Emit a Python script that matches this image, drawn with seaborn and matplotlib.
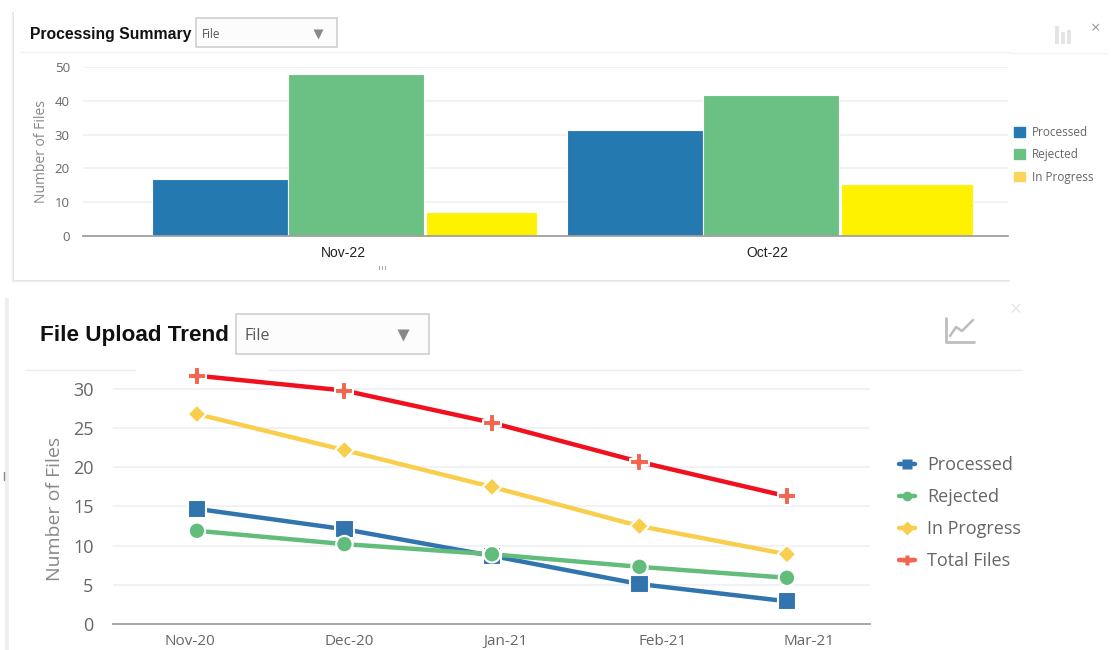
import matplotlib

matplotlib.use("Agg")
import matplotlib.pyplot as plt
import pandas as pd
import seaborn as sns
from matplotlib.lines import Line2D
from matplotlib.patches import Patch, Rectangle

W, H = 1111, 650

# ---- data ----
bar_months = ["Nov-22", "Oct-22"]
bar_series = ["Processed", "Rejected", "In Progress"]
bar_processed = [17, 31.5]
bar_rejected = [48, 41.7]
bar_in_progress = [7, 15.5]

trend_months = ["Nov-20", "Dec-20", "Jan-21", "Feb-21", "Mar-21"]
trend_series = ["Processed", "Rejected", "In Progress", "Total Files"]
trend_processed = [14.7, 12.1, 8.7, 5.1, 2.9]
trend_rejected = [11.9, 10.2, 8.9, 7.3, 5.9]
trend_in_progress = [26.8, 22.2, 17.5, 12.5, 8.9]
trend_total = [31.7, 29.8, 25.7, 20.7, 16.3]

# ---- colours ----
blue = "#2479B0"
green = "#6BC084"
bar_colors = dict(zip(bar_series, [blue, green, "#FFF200"]))
line_colors = dict(zip(trend_series, ["#3274AE", "#62BC7C", "#F8CE4C", "#F0101E"]))
marker_colors = dict(zip(trend_series, ["#3274AE", "#62BC7C", "#F8CE4C", "#F2664F"]))
markers = dict(zip(trend_series, ["s", "o", "D", "P"]))
marker_sizes = dict(zip(trend_series, [175, 140, 90, 170]))
grid_color = "#EEF0F5"
text_grey = "#666666"
title_font = "Liberation Sans"

sns.set_theme(style="white")
plt.rcParams["font.family"] = ["Open Sans", "DejaVu Sans"]

fig = plt.figure(figsize=(W / 100, H / 100), dpi=100, facecolor="white")


def px_axes(left, top, right, bottom, **kw):
    return fig.add_axes(
        [left / W, 1 - bottom / H, (right - left) / W, (bottom - top) / H], **kw
    )


# ---- page furniture, drawn in pixel coordinates under the charts ----
bg = px_axes(0, 0, W, H, zorder=-1)
bg.set_xlim(0, W)
bg.set_ylim(H, 0)
bg.axis("off")

# shadow of the top panel
for i, alpha in enumerate([0.04, 0.07, 0.12]):
    d = 3 - i
    bg.add_patch(
        Rectangle((14 - d, 12), 1000 + d, 268 + d, color="#808080", alpha=alpha, lw=0)
    )
bg.add_patch(Rectangle((14, 12), 1097, 268, color="white", lw=0))
bg.add_patch(Rectangle((1010, 0), 101, 296, color="white", lw=0))
bg.plot([20, 1010], [52, 52], color="#F3F3F3", lw=1)
bg.plot([1010, 1108], [53, 53], color="#F3F3F3", lw=1)
for x in [379, 382, 385]:
    bg.plot([x, x], [266, 269], color="#AAAAAA", lw=0.8)

# left edge of the bottom panel
bg.add_patch(Rectangle((5, 298), 4, 352, color="#EFEFEF", lw=0))
bg.plot([4, 4], [472, 480], color="#888888", lw=1)
bg.plot([25, 135], [370, 370], color="#EDEDED", lw=1)
bg.plot([268, 1022], [370, 370], color="#EDEDED", lw=1)


def dropdown(x0, y0, w, h, fs, text_dx, arrow_x, size):
    bg.add_patch(
        Rectangle((x0, y0), w, h, fc="#FCFCFC", ec="#CFCFCF", lw=1.2)
    )
    bg.text(x0 + text_dx, y0 + h / 2 + 2, "File", fontsize=fs, color="#555555", va="center")
    bg.plot(arrow_x, y0 + h / 2 + 1, marker="v", ms=size, color="#888888", mec="none")


bg.text(30, 35, "Processing Summary", fontsize=11.3, fontweight="bold",
        family=title_font, color="#111111", va="center")
dropdown(196, 18, 141, 29, 8.5, 6, 318, 6.5)
bg.text(40, 336, "File Upload Trend", fontsize=16.2, fontweight="bold",
        family=title_font, color="#111111", va="center")
dropdown(236, 314, 193, 40, 11.5, 9, 403, 9)

# chart icons and close buttons
for x, top_y in [(1055, 26), (1061, 32), (1067, 30)]:
    bg.add_patch(Rectangle((x, top_y), 4, 44 - top_y, color="#E4E4E4", lw=0))
bg.text(1096, 29, "×", fontsize=12, color="#999999", ha="center", va="center")
bg.plot([946, 946, 974], [318, 342, 342], color="#BDBDBD", lw=2)
bg.plot([950, 956, 962, 973], [336, 327, 331, 320], color="#BDBDBD", lw=1.8)
bg.text(1016, 310, "×", fontsize=15, color="#E6E6E6", ha="center", va="center")

# ---- Processing Summary ----
bar_df = pd.DataFrame(
    {
        "month": bar_months * 3,
        "status": [s for s in bar_series for _ in bar_months],
        "files": bar_processed + bar_rejected + bar_in_progress,
    }
)

ax1 = px_axes(83, 67, 1008, 236, facecolor="none")
sns.barplot(
    data=bar_df, x="month", y="files", hue="status", hue_order=bar_series,
    palette=bar_colors, saturation=1, width=0.985, gap=0,
    edgecolor="white", linewidth=0.8, legend=False, ax=ax1,
)
# the yellow bars are narrower than the other two in the reference
for bar, ratio in zip(ax1.containers[2], [0.81, 0.965]):
    bar.set_x(bar.get_x() + 0.005)
    bar.set_width(bar.get_width() * ratio)

ax1.set_xlim(-0.658, 1.571)
ax1.set_ylim(0, 50)
ax1.set_yticks(range(0, 51, 10))
ax1.set_xticks([-0.03, 0.99], bar_months)
ax1.grid(axis="y", color=grid_color, lw=1.2)
ax1.set_axisbelow(True)
ax1.tick_params(axis="y", length=0, labelsize=9.5, labelcolor=text_grey, pad=9.5)
ax1.tick_params(axis="x", length=0, labelsize=10, labelcolor="#222222", pad=7)
for label in ax1.get_xticklabels():
    label.set_family("Liberation Sans")
ax1.set_xlabel("")
ax1.set_ylabel("Number of Files", fontsize=10, color="#888888")
ax1.yaxis.set_label_coords((49 - 83) / 925, 0.5)
sns.despine(ax=ax1, left=True)
ax1.spines["bottom"].set_color("#A0A0A0")
ax1.spines["bottom"].set_linewidth(1.3)

bar_handles = [
    Patch(color=c, label=s)
    for s, c in zip(bar_series, [blue, green, "#FAD55C"])
]
leg1 = ax1.legend(
    handles=bar_handles, loc="upper left", bbox_to_anchor=(1009 / W, 1 - 121 / H),
    bbox_transform=fig.transFigure, frameon=False, fontsize=8.5, labelcolor=text_grey,
    handlelength=0.95, handleheight=0.9, handletextpad=0.6, labelspacing=0.8,
    borderpad=0.4, borderaxespad=0,
)

# ---- File Upload Trend ----
trend_df = pd.DataFrame(
    {
        "month": trend_months * 4,
        "status": [s for s in trend_series for _ in trend_months],
        "files": trend_processed + trend_rejected + trend_in_progress + trend_total,
    }
)

ax2 = px_axes(113, 372, 870, 624, facecolor="none")
sns.lineplot(
    data=trend_df, x="month", y="files", hue="status", hue_order=trend_series,
    palette=line_colors, lw=3.2, legend=False, ax=ax2, sort=False,
)
sns.scatterplot(
    data=trend_df, x="month", y="files", hue="status", style="status", size="status",
    hue_order=trend_series, style_order=trend_series, palette=marker_colors,
    markers=markers, sizes=marker_sizes, edgecolor="white", linewidth=1.5, legend=False,
    ax=ax2, zorder=5, clip_on=False,
)
ax2.set_xlim(-0.569, 4.563)
ax2.set_ylim(0, 32.17)
ax2.set_yticks(range(0, 31, 5))
ax2.set_xticks([-0.05, 1.03, 2.09, 3.16, 4.15], trend_months)
ax2.grid(axis="y", color=grid_color, lw=1.2)
ax2.set_axisbelow(True)
ax2.tick_params(axis="y", length=0, labelsize=13, labelcolor=text_grey, pad=14)
ax2.tick_params(axis="x", length=0, labelsize=11, labelcolor=text_grey, pad=7)
ax2.set_xlabel("")
ax2.set_ylabel("Number of Files", fontsize=14, color="#888888")
ax2.yaxis.set_label_coords((64 - 113) / 757, 0.456)
sns.despine(ax=ax2, left=True)
ax2.spines["bottom"].set_color("#A8A8A8")
ax2.spines["bottom"].set_linewidth(1.4)

trend_handles = [
    Line2D([], [], color=marker_colors[s], marker=markers[s], ms=7, mec="none",
           lw=3.2, label=s)
    for s in trend_series
]
leg2 = ax2.legend(
    handles=trend_handles, loc="upper left", bbox_to_anchor=(892 / W, 1 - 449 / H),
    bbox_transform=fig.transFigure, frameon=False, fontsize=13, labelcolor=text_grey,
    handlelength=0.9, handletextpad=0.65, labelspacing=0.77,
    borderpad=0.4, borderaxespad=0,
)

fig.savefig("out.png", dpi=100)
